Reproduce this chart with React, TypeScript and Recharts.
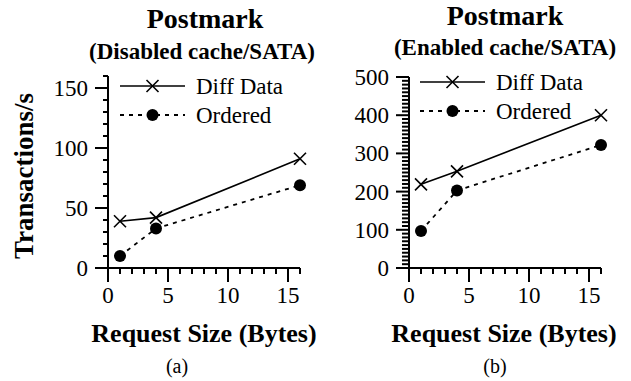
import React from 'react';
import { LineChart, Line, XAxis, YAxis, Legend } from 'recharts';

// ---- Data ----
const requestSizes = [1, 4, 16];
const diffDataDisabled = [39, 42, 91];
const orderedDisabled = [10, 33, 69];
const diffDataEnabled = [219, 253, 400];
const orderedEnabled = [97, 203, 322];

const xTicks = [0, 1, 2, 3, 4, 5, 6, 7, 8, 9, 10, 11, 12, 13, 14, 15, 16];
const yTicksDisabled = Array.from({ length: 17 }, (_, i) => i * 10);
const yTicksEnabled = Array.from({ length: 51 }, (_, i) => i * 10);

const seriesNames = ['Diff Data', 'Ordered'];
const titles = ['Postmark', 'Postmark'];
const subtitles = ['(Disabled cache/SATA)', '(Enabled cache/SATA)'];
const xLabel = 'Request Size (Bytes)';
const yLabel = 'Transactions/s';
const panelLabels = ['(a)', '(b)'];

const FONT = 'Liberation Serif';
const TICK_COLOR = 'black';

const buildRows = (a: number[], b: number[]) =>
  requestSizes.map((x, i) => ({ x, diff: a[i], ordered: b[i] }));

const disabledRows = buildRows(diffDataDisabled, orderedDisabled);
const enabledRows = buildRows(diffDataEnabled, orderedEnabled);

const CrossDot = (props: any) => {
  const { cx, cy } = props;
  if (cx == null || cy == null) return null;
  const s = 6;
  return (
    <g>
      <line x1={cx - s} y1={cy - s} x2={cx + s} y2={cy + s} stroke="black" strokeWidth={1.6} />
      <line x1={cx - s} y1={cy + s} x2={cx + s} y2={cy - s} stroke="black" strokeWidth={1.6} />
    </g>
  );
};

const CircleDot = (props: any) => {
  const { cx, cy } = props;
  if (cx == null || cy == null) return null;
  return <circle cx={cx} cy={cy} r={6} fill="black" />;
};

const YTick = (props: any) => {
  const { payload, axisX, major, minorLen } = props;
  const v = payload.value;
  const y = payload.coordinate;
  const isMajor = v % major === 0;
  const l = isMajor ? 13 : minorLen;
  return (
    <g>
      <line x1={axisX - l} y1={y} x2={axisX} y2={y} stroke={TICK_COLOR} strokeWidth={2} />
      {isMajor && (
        <text x={axisX - 20} y={y} dy="0.35em" textAnchor="end" fontFamily={FONT} fontSize={23} fill="black">
          {v}
        </text>
      )}
    </g>
  );
};

const XTick = (props: any) => {
  const { payload, axisY } = props;
  const v = payload.value;
  const x = payload.coordinate;
  const isMajor = v % 5 === 0;
  const l = isMajor ? 14 : 6;
  return (
    <g>
      <line x1={x} y1={axisY} x2={x} y2={axisY + l} stroke={TICK_COLOR} strokeWidth={2} />
      {isMajor && (
        <text x={x} y={axisY + 35} textAnchor="middle" fontFamily={FONT} fontSize={23} fill="black">
          {v}
        </text>
      )}
    </g>
  );
};

const LegendBox = () => (
  <svg width={210} height={62} style={{ overflow: 'visible' }}>
    <line x1={10} y1={16} x2={75} y2={16} stroke="black" strokeWidth={1.6} />
    <CrossDot cx={42.5} cy={16} />
    <text x={86} y={16} dy="0.35em" fontFamily={FONT} fontSize={23} fill="black">
      {seriesNames[0]}
    </text>
    <line x1={10} y1={45} x2={75} y2={45} stroke="black" strokeWidth={1.8} strokeDasharray="4 5" />
    <CircleDot cx={42.5} cy={45} />
    <text x={86} y={45} dy="0.35em" fontFamily={FONT} fontSize={23} fill="black">
      {seriesNames[1]}
    </text>
  </svg>
);

type PanelProps = {
  rows: any[];
  left: number;
  width: number;
  plotLeft: number;
  plotTop: number;
  plotRight: number;
  axisY: number;
  yMax: number;
  yTicks: number[];
  yMajor: number;
  minorLen: number;
  legendPos: { left: number; top: number };
};

const Panel = ({
  rows,
  left,
  width,
  plotLeft,
  plotTop,
  plotRight,
  axisY,
  yMax,
  yTicks,
  yMajor,
  minorLen,
  legendPos,
}: PanelProps) => {
  const height = 381;
  const margin = { top: plotTop, right: width - plotRight, bottom: height - axisY - 1, left: plotLeft - 1 };
  return (
    <div style={{ position: 'absolute', left, top: 0, width, height }}>
      <LineChart width={width} height={height} data={rows} margin={margin}>
        <XAxis
          type="number"
          dataKey="x"
          domain={[0, 16]}
          ticks={xTicks}
          interval={0}
          height={1}
          tickLine={false}
          axisLine={{ stroke: 'black', strokeWidth: 2 }}
          tick={(p: any) => <XTick {...p} axisY={axisY} />}
        />
        <YAxis
          type="number"
          domain={[0, yMax]}
          ticks={yTicks}
          interval={0}
          width={1}
          tickLine={false}
          axisLine={{ stroke: 'black', strokeWidth: 2 }}
          tick={(p: any) => <YTick {...p} axisX={plotLeft} major={yMajor} minorLen={minorLen} />}
        />
        <Legend
          layout="vertical"
          verticalAlign="middle"
          align="center"
          wrapperStyle={{ left: legendPos.left, top: legendPos.top, width: 210, height: 62 }}
          content={() => <LegendBox />}
        />
        <Line
          dataKey="diff"
          name={seriesNames[0]}
          stroke="black"
          strokeWidth={1.6}
          dot={<CrossDot />}
          activeDot={false}
          isAnimationActive={false}
        />
        <Line
          dataKey="ordered"
          name={seriesNames[1]}
          stroke="black"
          strokeWidth={1.8}
          strokeDasharray="4 5"
          dot={<CircleDot />}
          activeDot={false}
          isAnimationActive={false}
        />
      </LineChart>
    </div>
  );
};

export default function App() {
  return (
    <div
      style={{
        position: 'absolute',
        left: 0,
        top: 0,
        width: 631,
        height: 381,
        background: 'white',
        overflow: 'hidden',
        fontFamily: FONT,
      }}
    >
      <Panel
        rows={disabledRows}
        left={0}
        width={320}
        plotLeft={108}
        plotTop={76}
        plotRight={300}
        axisY={268}
        yMax={160}
        yTicks={yTicksDisabled}
        yMajor={50}
        minorLen={5}
        legendPos={{ left: 110, top: 70 }}
      />
      <Panel
        rows={enabledRows}
        left={310}
        width={321}
        plotLeft={99}
        plotTop={77}
        plotRight={291}
        axisY={268}
        yMax={500}
        yTicks={yTicksEnabled}
        yMajor={100}
        minorLen={7}
        legendPos={{ left: 100, top: 66 }}
      />
      <svg
        width={631}
        height={381}
        style={{ position: 'absolute', left: 0, top: 0, pointerEvents: 'none' }}
      >
        <g fill="black" fontFamily={FONT}>
          <text x={205} y={28} textAnchor="middle" fontSize={28} fontWeight="bold">{titles[0]}</text>
          <text x={505} y={25} textAnchor="middle" fontSize={28} fontWeight="bold">{titles[1]}</text>
          <text x={202} y={59} textAnchor="middle" fontSize={23} fontWeight="bold">{subtitles[0]}</text>
          <text x={505} y={55} textAnchor="middle" fontSize={23} fontWeight="bold">{subtitles[1]}</text>
          <text x={204} y={342} textAnchor="middle" fontSize={26} fontWeight="bold">{xLabel}</text>
          <text x={504} y={342} textAnchor="middle" fontSize={26} fontWeight="bold">{xLabel}</text>
          <text x={177} y={373} textAnchor="middle" fontSize={20}>{panelLabels[0]}</text>
          <text x={495} y={373} textAnchor="middle" fontSize={20}>{panelLabels[1]}</text>
          <text
            x={33}
            y={176}
            textAnchor="middle"
            fontSize={27}
            fontWeight="bold"
            transform="rotate(-90, 33, 176)"
          >
            {yLabel}
          </text>
        </g>
      </svg>
    </div>
  );
}
